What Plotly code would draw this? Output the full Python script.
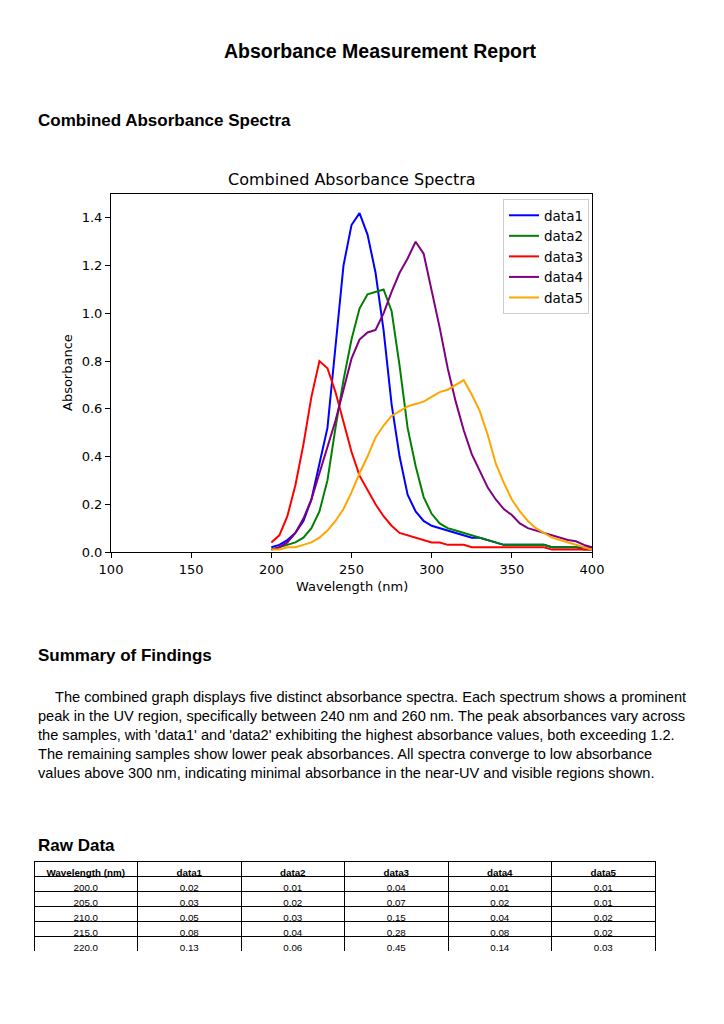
import plotly.graph_objects as go

# ---------------- data ----------------
wavelengths = [200, 205, 210, 215, 220, 225, 230, 235, 240, 245, 250, 255, 260, 265, 270,
               275, 280, 285, 290, 295, 300, 305, 310, 315, 320, 325, 330, 335, 340, 345,
               350, 355, 360, 365, 370, 375, 380, 385, 390, 395, 400]

data1 = [0.02, 0.03, 0.05, 0.08, 0.13, 0.22, 0.37, 0.52, 0.86, 1.20, 1.37, 1.42, 1.33, 1.17, 0.93,
         0.62, 0.40, 0.24, 0.17, 0.13, 0.11, 0.10, 0.09, 0.08, 0.07, 0.06, 0.06, 0.05, 0.04, 0.03,
         0.03, 0.03, 0.03, 0.03, 0.03, 0.02, 0.02, 0.02, 0.02, 0.02, 0.02]
data2 = [0.01, 0.02, 0.03, 0.04, 0.06, 0.10, 0.17, 0.30, 0.52, 0.72, 0.89, 1.02, 1.08, 1.09, 1.10,
         1.01, 0.78, 0.52, 0.36, 0.23, 0.16, 0.12, 0.10, 0.09, 0.08, 0.07, 0.06, 0.05, 0.04, 0.03,
         0.03, 0.03, 0.03, 0.03, 0.03, 0.02, 0.02, 0.02, 0.02, 0.01, 0.01]
data3 = [0.04, 0.07, 0.15, 0.28, 0.45, 0.65, 0.80, 0.77, 0.67, 0.55, 0.42, 0.32, 0.26, 0.20, 0.15,
         0.11, 0.08, 0.07, 0.06, 0.05, 0.04, 0.04, 0.03, 0.03, 0.03, 0.02, 0.02, 0.02, 0.02, 0.02,
         0.02, 0.02, 0.02, 0.02, 0.02, 0.01, 0.01, 0.01, 0.01, 0.01, 0.01]
data4 = [0.01, 0.02, 0.04, 0.08, 0.14, 0.22, 0.33, 0.44, 0.55, 0.68, 0.81, 0.89, 0.92, 0.93, 1.00,
         1.09, 1.17, 1.23, 1.30, 1.25, 1.10, 0.94, 0.77, 0.63, 0.51, 0.41, 0.34, 0.27, 0.22, 0.18,
         0.155, 0.12, 0.10, 0.09, 0.08, 0.07, 0.06, 0.05, 0.045, 0.03, 0.02]
data5 = [0.01, 0.01, 0.02, 0.02, 0.03, 0.04, 0.06, 0.09, 0.13, 0.18, 0.25, 0.33, 0.40, 0.48, 0.53,
         0.57, 0.59, 0.61, 0.62, 0.63, 0.65, 0.67, 0.68, 0.70, 0.72, 0.66, 0.59, 0.49, 0.37, 0.29,
         0.22, 0.17, 0.13, 0.10, 0.08, 0.06, 0.05, 0.04, 0.03, 0.02, 0.01]

series_names = ["data1", "data2", "data3", "data4", "data5"]
series_colors = ["#0000FF", "#008000", "#FF0000", "#800080", "#FFA500"]
series_values = [data1, data2, data3, data4, data5]

x_ticks = [100, 150, 200, 250, 300, 350, 400]
y_ticks = [0.0, 0.2, 0.4, 0.6, 0.8, 1.0, 1.2, 1.4]

table_rows = 5

page_title = "Absorbance Measurement Report"
section1 = "Combined Absorbance Spectra"
chart_title = "Combined Absorbance Spectra"
section2 = "Summary of Findings"
section3 = "Raw Data"
summary_lines = [
    "The combined graph displays five distinct absorbance spectra. Each spectrum shows a prominent",
    "peak in the UV region, specifically between 240 nm and 260 nm. The peak absorbances vary across",
    "the samples, with 'data1' and 'data2' exhibiting the highest absorbance values, both exceeding 1.2.",
    "The remaining samples show lower peak absorbances. All spectra converge to low absorbance",
    "values above 300 nm, indicating minimal absorbance in the near-UV and visible regions shown.",
]

# ---------------- layout helpers ----------------
W, H = 724, 1024
def px(x):
    return x / W
def py(y):
    return 1 - y / H

PAGE_FONT = "Liberation Sans, Arial, sans-serif"
CHART_FONT = "DejaVu Sans, sans-serif"

fig = go.Figure()

for name, color, vals in zip(series_names, series_colors, series_values):
    fig.add_trace(go.Scatter(
        x=wavelengths, y=vals, mode="lines", name=name,
        line=dict(color=color, width=2),
        xaxis="x", yaxis="y",
    ))

# table
header_vals = ["Wavelength (nm)"] + series_names
cell_vals = [["%.1f" % w for w in wavelengths[:table_rows]]] + \
            [["%.2f" % v for v in vals[:table_rows]] for vals in series_values]
fig.add_trace(go.Table(
    domain=dict(x=[px(34), px(655)], y=[py(951), py(861)]),
    header=dict(values=header_vals, height=15, align="center",
                line=dict(color="black", width=1), fill=dict(color="white"),
                font=dict(family=PAGE_FONT, size=9.8, color="black", weight="bold")),
    cells=dict(values=cell_vals, height=15, align="center",
               line=dict(color="black", width=1), fill=dict(color="white"),
               font=dict(family=PAGE_FONT, size=9.8, color="black")),
))

axis_common = dict(
    showgrid=False, zeroline=False, showline=True, linecolor="black", linewidth=1,
    mirror=True, ticks="outside", ticklen=5, tickwidth=1, tickcolor="black",
    automargin=False,
    tickfont=dict(family=CHART_FONT, size=13, color="black"),
)

fig.update_layout(
    width=W, height=H,
    autosize=False,
    margin=dict(l=0, r=0, t=0, b=0, pad=0, autoexpand=False),
    paper_bgcolor="white", plot_bgcolor="white",
    xaxis=dict(domain=[px(111), px(592)], range=[100, 400], tickvals=x_ticks,
               ticktext=[str(t) for t in x_ticks], anchor="y", **axis_common),
    yaxis=dict(domain=[py(552), py(194)], range=[0, 1.5], tickvals=y_ticks,
               ticktext=["%.1f" % t for t in y_ticks], anchor="x", **axis_common),
    showlegend=True,
    legend=dict(x=px(589), y=py(199), xanchor="right", yanchor="top",
                bgcolor="rgba(255,255,255,0.8)", bordercolor="#cccccc", borderwidth=1,
                font=dict(family=CHART_FONT, size=13.5, color="black"),
                itemwidth=30, tracegroupgap=0),
)

annotations = []
def text(x, y, s, size, bold=False, family=PAGE_FONT, xanchor="left", textangle=0):
    annotations.append(dict(
        x=px(x), y=py(y), xref="paper", yref="paper", showarrow=False,
        text=("<b>%s</b>" % s) if bold else s, xanchor=xanchor, yanchor="middle",
        font=dict(family=family, size=size, color="black"), textangle=textangle,
    ))

text(380, 51, page_title, 19.5, bold=True, xanchor="center")
text(36, 120, section1, 17, bold=True)
text(352, 179, chart_title, 16, family=CHART_FONT, xanchor="center")
text(352, 586, "Wavelength (nm)", 13, family=CHART_FONT, xanchor="center")
text(67, 373, "Absorbance", 13, family=CHART_FONT, xanchor="center", textangle=-90)
text(36, 655, section2, 17, bold=True)
for i, line in enumerate(summary_lines):
    text(53 if i == 0 else 36, 697 + 19 * i, line, 14.6)
text(36, 845, section3, 17, bold=True)

fig.update_layout(annotations=annotations)

fig.write_html("out.html", config={"displayModeBar": False},
               post_script="document.body.style.margin='0';document.body.style.overflow='hidden';")
